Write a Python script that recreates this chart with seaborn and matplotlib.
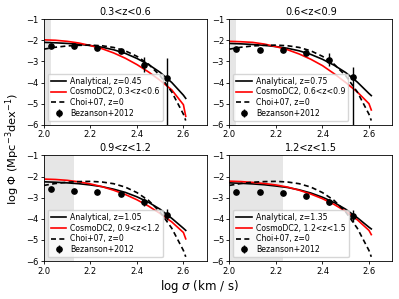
import matplotlib
matplotlib.use("Agg")
import matplotlib.pyplot as plt
import numpy as np
import pandas as pd
import seaborn as sns

# sampling of the curves in log sigma
x_curve = [2.0, 2.05, 2.1, 2.15, 2.2, 2.25, 2.3, 2.35, 2.4, 2.45, 2.5, 2.55, 2.6, 2.61]

# Choi+07 (z=0), identical in every panel
choi = [-2.42, -2.33, -2.27, -2.24, -2.23, -2.26, -2.34, -2.50, -2.76, -3.13, -3.68, -4.45, -5.50, -5.80]

titles = ["0.3<z<0.6", "0.6<z<0.9", "0.9<z<1.2", "1.2<z<1.5"]
z_mid = ["0.45", "0.75", "1.05", "1.35"]

analytical = [
    [-2.10, -2.12, -2.15, -2.19, -2.25, -2.33, -2.45, -2.62, -2.86, -3.15, -3.52, -4.00, -4.60, -4.75],
    [-2.15, -2.17, -2.20, -2.24, -2.30, -2.38, -2.50, -2.67, -2.90, -3.18, -3.53, -3.98, -4.52, -4.62],
    [-2.25, -2.27, -2.30, -2.34, -2.40, -2.48, -2.60, -2.75, -2.96, -3.22, -3.55, -3.98, -4.45, -4.55],
    [-2.30, -2.32, -2.35, -2.39, -2.45, -2.52, -2.63, -2.78, -2.98, -3.23, -3.55, -3.95, -4.40, -4.48],
]
cosmodc2 = [
    [-1.98, -2.00, -2.05, -2.13, -2.25, -2.40, -2.60, -2.85, -3.15, -3.50, -3.90, -4.35, -5.05, -5.60],
    [-2.05, -2.07, -2.10, -2.18, -2.30, -2.45, -2.65, -2.90, -3.20, -3.58, -4.00, -4.45, -5.00, -5.30],
    [-2.12, -2.14, -2.18, -2.25, -2.35, -2.48, -2.65, -2.85, -3.10, -3.40, -3.75, -4.15, -4.65, -4.95],
    [-2.22, -2.24, -2.28, -2.33, -2.40, -2.50, -2.65, -2.83, -3.05, -3.32, -3.65, -4.05, -4.55, -4.75],
]

# Bezanson+2012 measurements
x_bez = [2.03, 2.13, 2.23, 2.33, 2.43, 2.53]
bez = [
    [-2.28, -2.27, -2.37, -2.52, -3.15, -3.80],
    [-2.42, -2.48, -2.45, -2.58, -2.92, -3.72],
    [-2.60, -2.67, -2.75, -2.85, -3.20, -3.80],
    [-2.72, -2.72, -2.78, -2.93, -3.20, -3.85],
]
bez_err_lo = [
    [0.08, 0.06, 0.06, 0.10, 0.35, 2.5],
    [0.08, 0.06, 0.06, 0.10, 0.30, 2.5],
    [0.06, 0.05, 0.05, 0.08, 0.20, 0.25],
    [0.06, 0.05, 0.05, 0.08, 0.15, 0.28],
]
bez_err_hi = [
    [0.08, 0.06, 0.06, 0.10, 0.35, 0.95],
    [0.08, 0.06, 0.06, 0.10, 0.30, 0.45],
    [0.06, 0.05, 0.05, 0.08, 0.20, 0.25],
    [0.06, 0.05, 0.05, 0.08, 0.15, 0.28],
]

# completeness limit (shaded region upper edge)
shade_hi = [2.03, 2.03, 2.13, 2.23]

fig, axes = plt.subplots(2, 2, figsize=(3.99, 2.99), dpi=100)
fig.subplots_adjust(left=0.11, right=0.983, bottom=0.127, top=0.936, wspace=0.14, hspace=0.29)

for i, ax in enumerate(axes.flat):
    ax.axvspan(2.0, shade_hi[i], color="0.9", lw=0, zorder=0)
    df = pd.DataFrame({"x": x_curve, "ana": analytical[i], "dc2": cosmodc2[i], "choi": choi})
    sns.lineplot(data=df, x="x", y="ana", color="black", lw=1.2, ax=ax,
                 label=f"Analytical, z={z_mid[i]}")
    sns.lineplot(data=df, x="x", y="dc2", color="red", lw=1.2, ax=ax,
                 label=f"CosmoDC2, {titles[i]}")
    sns.lineplot(data=df, x="x", y="choi", color="black", lw=1.2, ax=ax,
                 linestyle=(0, (3, 2)), label="Choi+07, z=0")
    ax.errorbar(x_bez, bez[i], yerr=[bez_err_lo[i], bez_err_hi[i]], fmt="o",
                color="black", ms=3.8, elinewidth=1.0, label="Bezanson+2012")
    ax.set_xlim(2.0, 2.7)
    ax.set_ylim(-6, -1)
    ax.set_xticks([2.0, 2.2, 2.4, 2.6])
    ax.set_yticks([-6, -5, -4, -3, -2, -1])
    ax.tick_params(labelsize=6, length=2.5, width=0.6, pad=1.5)
    for s in ax.spines.values():
        s.set_linewidth(0.6)
    ax.set_xlabel("")
    ax.set_ylabel("")
    ax.set_title(titles[i], fontsize=7, pad=3)
    ax.legend(loc="lower left", fontsize=5.6, handlelength=2.0, borderpad=0.4,
              labelspacing=0.22, handletextpad=0.5, framealpha=0.8)

fig.supxlabel(r"log $\sigma$ (km / s)", fontsize=8.5, y=0.015)
fig.supylabel(r"log $\Phi$ (Mpc$^{-3}$dex$^{-1}$)", fontsize=8.2, x=0.008)

fig.savefig("out.png", dpi=100)
